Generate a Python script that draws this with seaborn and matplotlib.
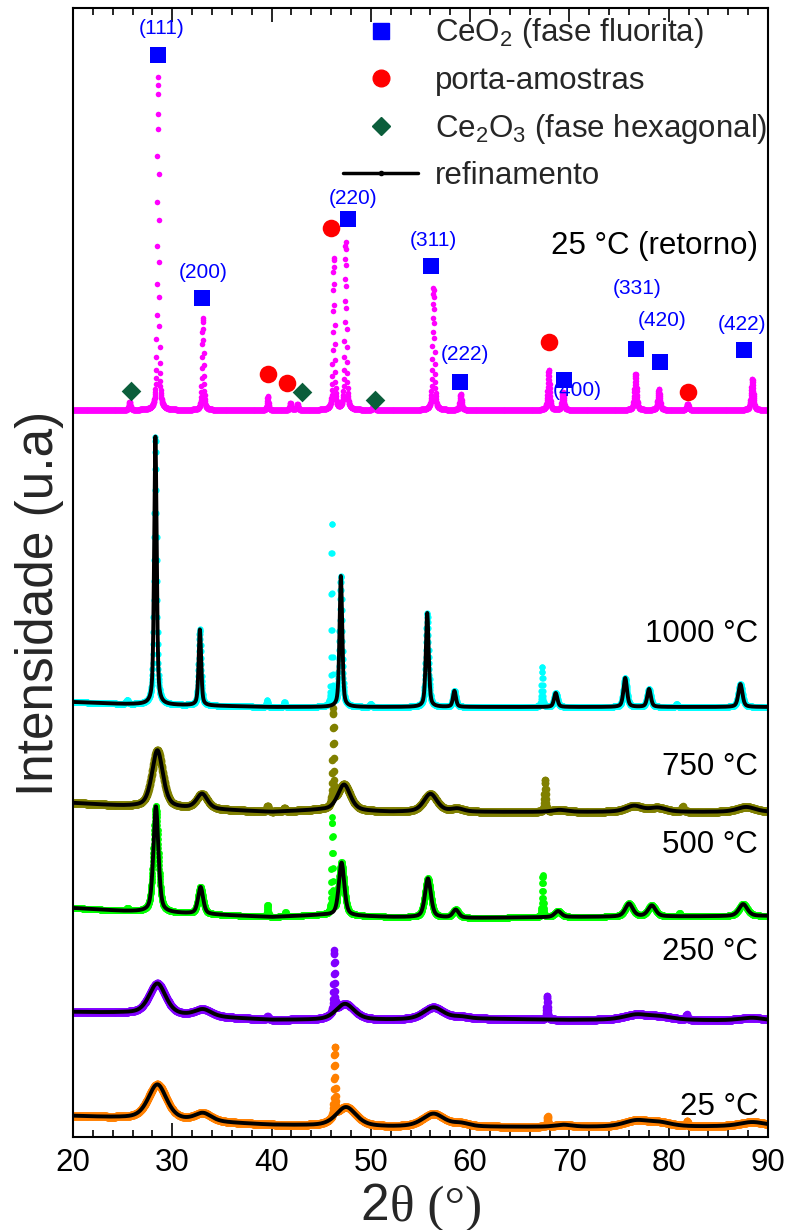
import numpy as np
import pandas as pd
import matplotlib
matplotlib.use("Agg")
import matplotlib.pyplot as plt
from matplotlib.lines import Line2D
from matplotlib.ticker import MultipleLocator
import seaborn as sns

# ---------------- scan grid ----------------
TT_START, TT_END, TT_STEP = 20.0, 90.0, 0.02

# ---------------- 25 °C ----------------
bg_25_tt = [20, 25, 40, 52, 62, 70, 80, 90]
bg_25_y = [21, 19, 12, 10, 10, 10, 10, 11]
pk_25_pos = [28.5, 33.1, 47.5, 56.3, 59.1, 69.4, 76.7, 79.1, 88.4]
pk_25_amp = [35, 8, 19, 13, 3, 2, 6, 4, 4]
pk_25_fwhm = [2.2, 2.0, 2.4, 2.6, 2.0, 2.0, 3.0, 3.0, 3.0]
sh_25_pos = [46.35, 67.8, 81.85]
sh_25_amp = [70, 10, 5]
sh_25_fwhm = [0.15, 0.15, 0.15]

# ---------------- 250 °C ----------------
bg_250_tt = [20, 25, 40, 52, 62, 70, 80, 90]
bg_250_y = [125, 124, 117, 117, 118, 117, 117, 116]
pk_250_pos = [28.5, 33.1, 47.4, 56.3, 59.1, 76.7, 79.1, 88.4]
pk_250_amp = [31, 7, 16, 12, 2, 5, 3, 3]
pk_250_fwhm = [2.0, 2.0, 2.2, 2.4, 2.0, 3.0, 3.0, 3.0]
sh_250_pos = [39.6, 46.3, 67.75, 81.8]
sh_250_amp = [3, 62, 24, 5]
sh_250_fwhm = [0.2, 0.15, 0.15, 0.15]

# ---------------- 500 °C ----------------
bg_500_tt = [20, 25, 40, 45, 52, 60, 70, 90]
bg_500_y = [229, 226, 220, 222, 220, 219, 220, 221]
pk_500_pos = [28.35, 32.85, 47.05, 55.75, 58.55, 68.85, 76.0, 78.3, 87.5]
pk_500_amp = [106, 27, 53, 39, 8, 6, 13, 11, 12]
pk_500_fwhm = [0.6, 0.6, 0.65, 0.7, 0.7, 0.8, 0.9, 0.9, 1.0]
sh_500_pos = [25.5, 39.6, 41.4, 46.1, 67.3, 81.1]
sh_500_amp = [3, 12, 4, 95, 42, 3]
sh_500_fwhm = [0.2, 0.15, 0.15, 0.15, 0.15, 0.2]

# ---------------- 750 °C ----------------
bg_750_tt = [20, 25, 40, 45, 52, 62, 70, 90]
bg_750_y = [334, 331, 325, 327, 325, 325, 325, 325]
pk_750_pos = [28.5, 33.0, 47.3, 56.0, 58.7, 69.0, 76.5, 78.9, 87.8]
pk_750_amp = [57, 15, 26, 18, 3, 2, 6, 4, 5]
pk_750_fwhm = [1.3, 1.3, 1.5, 1.6, 1.5, 1.8, 2.0, 2.0, 2.2]
sh_750_pos = [39.6, 41.3, 46.2, 67.55, 81.4]
sh_750_amp = [6, 3, 95, 32, 5]
sh_750_fwhm = [0.2, 0.2, 0.15, 0.15, 0.2]

# ---------------- 1000 °C ----------------
bg_1000_tt = [20, 25, 40, 90]
bg_1000_y = [435, 433, 430, 430]
pk_1000_pos = [28.3, 32.78, 46.98, 55.68, 58.42, 68.62, 75.62, 78.02, 87.22]
pk_1000_amp = [268, 76, 131, 94, 16, 14, 29, 18, 23]
pk_1000_fwhm = [0.3, 0.3, 0.32, 0.34, 0.35, 0.4, 0.42, 0.42, 0.48]
sh_1000_pos = [25.45, 39.55, 41.3, 46.05, 50.0, 67.25, 80.8]
sh_1000_amp = [4, 7, 5, 185, 3, 40, 3]
sh_1000_fwhm = [0.2, 0.15, 0.15, 0.12, 0.2, 0.15, 0.2]

# ---------------- 25 °C (retorno) ----------------
bg_ret_tt = [20, 90]
bg_ret_y = [727, 727]
pk_ret_pos = [25.7, 28.556, 33.083, 39.62, 41.9, 42.6, 46.253, 47.457, 50.3,
              56.306, 59.05, 67.907, 69.35, 76.653, 79.004, 81.9, 88.407]
pk_ret_amp = [8, 333, 92, 14, 7, 6, 152, 168, 6,
              122, 16, 40, 18, 36, 21, 6, 31]
pk_ret_fwhm = [0.18, 0.19, 0.19, 0.16, 0.18, 0.18, 0.19, 0.2, 0.18,
               0.22, 0.22, 0.24, 0.24, 0.26, 0.26, 0.24, 0.28]

# ---------------- phase markers on the returned sample ----------------
ceo2_tt = [28.52, 33.04, 47.73, 56.09, 58.98, 69.45, 76.74, 79.15, 87.61]
ceo2_y = [1082, 839, 918, 871, 755, 757, 788, 775, 787]
ceo2_hkl = ["(111)", "(200)", "(220)", "(311)", "(222)", "(400)", "(331)", "(420)", "(422)"]
hkl_tt = [28.9, 33.1, 48.2, 56.3, 59.5, 70.8, 76.8, 79.3, 87.4]
hkl_y = [1108, 864, 939, 897, 782, 746, 848, 817, 813]
holder_tt = [46.0, 39.6, 41.6, 67.9, 81.9]
holder_y = [909, 763, 754, 795, 745]
ce2o3_tt = [25.8, 43.1, 50.4]
ce2o3_y = [746, 745, 737]

sample_labels = ["25 °C (retorno)", "1000 °C", "750 °C", "500 °C", "250 °C", "25 °C"]
label_y = [891, 503, 370, 292, 185, 30]


def pseudo_voigt(tt, pos, amp, fwhm, eta=0.5):
    out = np.zeros_like(tt)
    for p, a, w in zip(pos, amp, fwhm):
        g = np.exp(-4 * np.log(2) * ((tt - p) / w) ** 2)
        lor = 1.0 / (1.0 + 4 * ((tt - p) / w) ** 2)
        out += a * (eta * lor + (1 - eta) * g)
    return out


tt = np.arange(TT_START, TT_END + TT_STEP / 2, TT_STEP)

series = [
    # name, color, background, sample peaks, holder peaks, refined, dot size
    ("25 °C", "#FF8000", (bg_25_tt, bg_25_y), (pk_25_pos, pk_25_amp, pk_25_fwhm),
     (sh_25_pos, sh_25_amp, sh_25_fwhm), True, 30),
    ("250 °C", "#8000FF", (bg_250_tt, bg_250_y), (pk_250_pos, pk_250_amp, pk_250_fwhm),
     (sh_250_pos, sh_250_amp, sh_250_fwhm), True, 30),
    ("500 °C", "#00FF00", (bg_500_tt, bg_500_y), (pk_500_pos, pk_500_amp, pk_500_fwhm),
     (sh_500_pos, sh_500_amp, sh_500_fwhm), True, 24),
    ("750 °C", "#808000", (bg_750_tt, bg_750_y), (pk_750_pos, pk_750_amp, pk_750_fwhm),
     (sh_750_pos, sh_750_amp, sh_750_fwhm), True, 30),
    ("1000 °C", "#00FFFF", (bg_1000_tt, bg_1000_y), (pk_1000_pos, pk_1000_amp, pk_1000_fwhm),
     (sh_1000_pos, sh_1000_amp, sh_1000_fwhm), True, 20),
    ("25 °C (retorno)", "#FF00FF", (bg_ret_tt, bg_ret_y), (pk_ret_pos, pk_ret_amp, pk_ret_fwhm),
     ([], [], []), False, 16),
]

sns.set_theme(style="ticks")
plt.rcParams["font.family"] = ["Liberation Sans", "DejaVu Sans"]
plt.rcParams["mathtext.fontset"] = "custom"
plt.rcParams["mathtext.rm"] = "Liberation Sans"
plt.rcParams["mathtext.it"] = "Liberation Sans:italic"

fig = plt.figure(figsize=(7.89, 12.30), dpi=100)
ax = fig.add_axes([73 / 789, 93 / 1230, 695 / 789, 1129 / 1230])

for name, color, bg, pk, sh, refined, size in series:
    base = np.interp(tt, bg[0], bg[1])
    fit = base + pseudo_voigt(tt, *pk)
    obs = fit + pseudo_voigt(tt, *sh)
    df = pd.DataFrame({"tt": tt, "obs": obs, "fit": fit})
    sns.scatterplot(data=df, x="tt", y="obs", color=color, s=size, linewidth=0,
                    ax=ax, zorder=2, legend=False)
    if refined:
        sns.lineplot(data=df, x="tt", y="fit", color="black", lw=2.8, ax=ax,
                     zorder=3, sort=False, estimator=None, legend=False)

# phase identification markers
ax.scatter(ceo2_tt, ceo2_y, marker="s", s=120, color="#0000FF", zorder=5, linewidths=0)
ax.scatter(holder_tt, holder_y, marker="o", s=160, color="#FF0000", zorder=5, linewidths=0)
ax.scatter(ce2o3_tt, ce2o3_y, marker="D", s=100, color="#0B5E3B", zorder=5, linewidths=0)
for t, y, s in zip(hkl_tt, hkl_y, ceo2_hkl):
    ax.text(t, y, s, color="#0000FF", fontsize=15, ha="center", va="center", zorder=6)

for s, y in zip(sample_labels, label_y):
    ax.text(89.0, y, s, fontsize=22.5, ha="right", va="center", color="black")

ax.set_xlim(20, 90)
ax.set_ylim(0, 1129)
ax.xaxis.set_major_locator(MultipleLocator(10))
ax.xaxis.set_minor_locator(MultipleLocator(2))
ax.tick_params(axis="x", which="both", direction="in", top=True, bottom=True,
               labelsize=22.5, width=1.2, pad=8, colors="black")
ax.tick_params(axis="x", which="major", length=10)
ax.tick_params(axis="x", which="minor", length=5)
ax.set_yticks([])
ax.set_xlabel("")
ax.set_ylabel("")
for sp in ax.spines.values():
    sp.set_visible(True)
    sp.set_linewidth(1.5)
    sp.set_color("black")

handles = [
    Line2D([], [], marker="s", color="#0000FF", ls="none", ms=11),
    Line2D([], [], marker="o", color="#FF0000", ls="none", ms=12),
    Line2D([], [], marker="D", color="#0B5E3B", ls="none", ms=9),
    Line2D([], [], marker="o", color="black", lw=2.5, ms=3),
]
labels = [r"CeO$_2$ (fase fluorita)", "porta-amostras",
          r"Ce$_2$O$_3$ (fase hexagonal)", "refinamento"]
ax.legend(handles, labels, loc="upper left", bbox_to_anchor=((343 - 73) / 695, 0.9925),
          frameon=False, fontsize=22.5, handlelength=2.4, handletextpad=0.55,
          borderpad=0, borderaxespad=0, labelspacing=0.5, numpoints=1)

fig.text(389 / 789, 10 / 1230, "2", fontsize=37, ha="right", va="baseline",
         family=["Liberation Sans", "DejaVu Sans"])
fig.text(390 / 789, 10 / 1230, "θ (°)", fontsize=37, ha="left", va="baseline",
         family=["Liberation Serif", "DejaVu Serif"])
fig.text(40 / 789, (1230 - 603) / 1230, "Intensidade (u.a)", fontsize=37,
         rotation=90, ha="center", va="center")

fig.savefig("out.png", dpi=100, facecolor="white")
